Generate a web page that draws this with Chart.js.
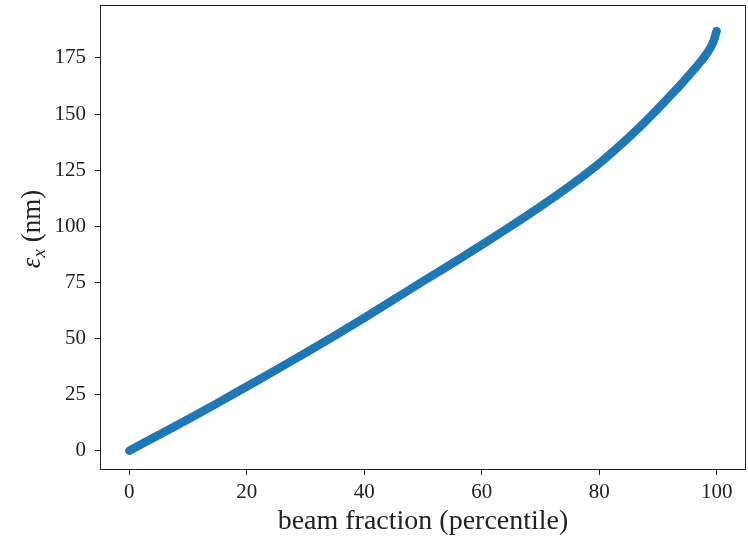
<!DOCTYPE html>
<html>
<head>
<meta charset="utf-8">
<script src="https://cdn.jsdelivr.net/npm/chart.js@4.4.1/dist/chart.umd.min.js"></script>
<style>
  html, body { margin: 0; padding: 0; background: #fff; }
  #wrap { width: 748px; height: 538px; }
</style>
</head>
<body>
<div id="wrap"><canvas id="chart" width="748" height="538"></canvas></div>
<script>
// beam fraction (percentile) vs emittance
const fraction = [0, 5, 10, 15, 20, 25, 30, 35, 40, 45, 50, 55, 60, 65, 70, 75, 80, 85, 88, 90, 92, 94, 95, 96, 97, 98, 99, 99.5, 100];
const emittance = [0, 7.0, 14.0, 21.2, 28.6, 36.0, 43.6, 51.3, 59.2, 67.3, 75.5, 83.5, 91.7, 100.1, 108.8, 118.0, 128.0, 139.5, 147.0, 152.4, 157.9, 163.5, 166.4, 169.4, 172.5, 175.8, 179.8, 182.6, 187.0];

const xTicks = [0, 20, 40, 60, 80, 100];
const yTicks = [0, 25, 50, 75, 100, 125, 150, 175];

const SERIF = '"Liberation Serif", "DejaVu Serif", serif';

const points = fraction.map((f, i) => ({ x: f, y: emittance[i] }));

// box round the plot plus the axis labels (y label needs a subscript)
const framePlugin = {
  id: 'frame',
  afterDraw(chart) {
    const { ctx, chartArea: a } = chart;
    ctx.save();
    ctx.strokeStyle = '#222';
    ctx.lineWidth = 1;
    ctx.strokeRect(a.left + 0.5, a.top + 0.5, a.right - a.left - 1, a.bottom - a.top - 1);

    // x label
    ctx.fillStyle = '#222';
    ctx.font = '28px ' + SERIF;
    ctx.textAlign = 'center';
    ctx.textBaseline = 'alphabetic';
    ctx.fillText('beam fraction (percentile)', (a.left + a.right) / 2, 529);

    // y label: ε_x (nm), rotated
    ctx.translate(40, 229);
    ctx.rotate(-Math.PI / 2);
    const big = '27px ' + SERIF, ital = 'italic 27px ' + SERIF, sub = 'italic 19px ' + SERIF;
    ctx.font = ital; const w1 = ctx.measureText('ε').width;
    ctx.font = sub; const w2 = ctx.measureText('x').width;
    ctx.font = big; const w3 = ctx.measureText(' (nm)').width;
    let x0 = -(w1 + w2 + w3) / 2;
    ctx.textAlign = 'left';
    ctx.font = ital; ctx.fillText('ε', x0, 0); x0 += w1;
    ctx.font = sub; ctx.fillText('x', x0, 5); x0 += w2;
    ctx.font = big; ctx.fillText(' (nm)', x0, 0);
    ctx.restore();
  }
};

new Chart(document.getElementById('chart'), {
  type: 'scatter',
  data: {
    datasets: [{
      data: points,
      showLine: true,
      borderColor: '#1f77b4',
      backgroundColor: '#1f77b4',
      borderWidth: 8.5,
      borderCapStyle: 'round',
      borderJoinStyle: 'round',
      cubicInterpolationMode: 'monotone',
      pointRadius: 0
    }]
  },
  options: {
    responsive: false,
    animation: false,
    layout: { padding: { top: 5, right: 2, left: 0, bottom: 0 } },
    plugins: { legend: { display: false }, tooltip: { enabled: false } },
    scales: {
      x: {
        type: 'linear',
        min: -5,
        max: 105,
        afterBuildTicks: s => { s.ticks = xTicks.map(v => ({ value: v })); },
        afterFit: s => { s.height = 68; s.paddingLeft = 0; s.paddingRight = 0; },
        grid: { drawOnChartArea: false, tickLength: 5, color: '#222' },
        border: { display: false },
        ticks: { color: '#222', font: { family: SERIF, size: 21 }, padding: 5, maxRotation: 0 }
      },
      y: {
        type: 'linear',
        min: -8.6,
        max: 198.6,
        afterBuildTicks: s => { s.ticks = yTicks.map(v => ({ value: v })); },
        afterFit: s => { s.width = 100; s.paddingTop = 0; s.paddingBottom = 0; },
        grid: { drawOnChartArea: false, tickLength: 5, color: '#222' },
        border: { display: false },
        ticks: { color: '#222', font: { family: SERIF, size: 21 }, padding: 9 }
      }
    }
  },
  plugins: [framePlugin]
});
</script>
</body>
</html>
